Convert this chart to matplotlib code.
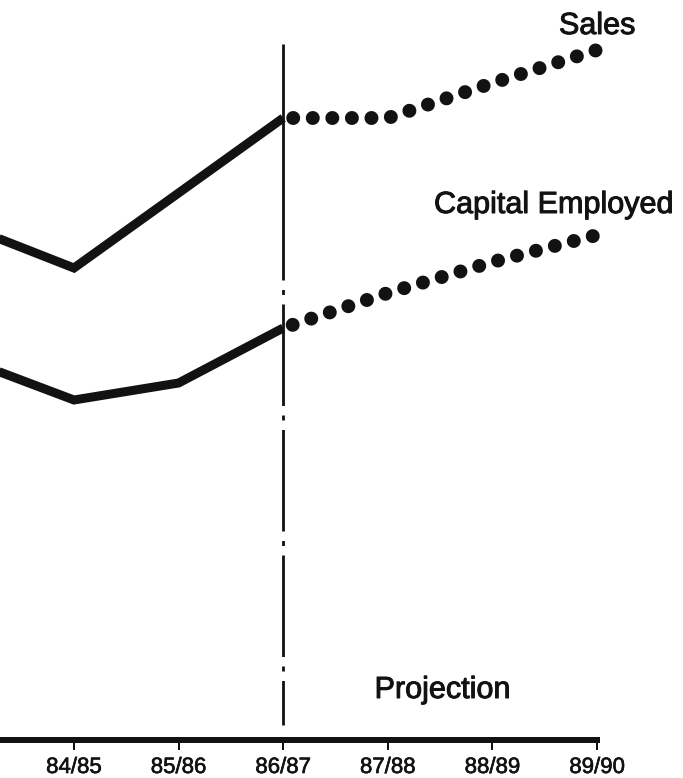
import numpy as np
import matplotlib
matplotlib.use("Agg")
import matplotlib.pyplot as plt
import matplotlib.patheffects as pe

# dash lengths below are given in points, not multiples of linewidth
plt.rcParams['lines.scale_dashes'] = False
plt.rcParams['font.family'] = ['Liberation Sans', 'DejaVu Sans']

# years on the x axis (index 0 = 84/85)
years = ['83/84', '84/85', '85/86', '86/87', '87/88', '88/89', '89/90']
year_idx = np.arange(-1, 6)
tick_labels = years[1:]

# actual figures up to 86/87 (arbitrary index units)
actual_years = year_idx[:4]
sales_actual = [102.6, 94.4, 109.4, 124.4]
capital_actual = [75.9, 68.0, 71.4, 82.4]

# projections from 86/87 onwards
proj_years = year_idx[3:]
sales_proj = [124.4, 124.4, 131.4, 138.0]
capital_proj = [82.4, 89.4, 95.6, 101.0]

PX = 72 / 100  # points per pixel at dpi 100
INK = '#121212'
heavy = [pe.withStroke(linewidth=0.7, foreground=INK)]


def px(v):
    return v * PX


def draw_projection(ax, x, y):
    period = px(19.55)
    ax.plot(x, y, color=INK, lw=px(14),
            linestyle=(period - px(10), (0.01, period)),
            dash_capstyle='round', solid_capstyle='round', zorder=4)


fig = plt.figure(figsize=(6.83, 7.78), dpi=100)
ax = fig.add_axes([0, 0, 1, 1])
ax.set_xlim(-0.707, 5.822)
ax.set_ylim(-7.6, 148)

# actual data, heavy solid lines
for vals in (sales_actual, capital_actual):
    ax.plot(actual_years, vals, color=INK, lw=px(9),
            solid_joinstyle='miter', solid_capstyle='butt', zorder=3)

# projections as big dots
draw_projection(ax, proj_years, sales_proj)
draw_projection(ax, proj_years, capital_proj)

# divider between actual and projection
ax.plot([2, 2], [139.2, 92.0], color=INK, lw=px(2.8),
        solid_capstyle='butt', zorder=2)
ax.plot([2, 2], [92.0, 3.0], color=INK, lw=px(2.8),
        linestyle=(px(101.5), (px(101.5), px(9.5), px(5), px(9.5))),
        dash_capstyle='butt', zorder=2)

# labels
for x, y, s in [(5.0, 141.2, 'Sales'), (4.58, 105.4, 'Capital Employed'),
                (3.52, 8.4, 'Projection')]:
    ax.text(x, y, s, fontsize=22, ha='center', va='baseline', color=INK,
            path_effects=heavy)

# axis: thick baseline with short ticks
for side in ('top', 'left', 'right'):
    ax.spines[side].set_visible(False)
ax.spines['bottom'].set_position(('data', 0))
ax.spines['bottom'].set_bounds(-0.707, 5)
ax.spines['bottom'].set_linewidth(px(6))
ax.spines['bottom'].set_color(INK)
ax.set_xticks(year_idx[1:])
ax.set_xticklabels(tick_labels)
ax.tick_params(axis='x', direction='out', length=px(10), width=px(2),
               color=INK, pad=px(7), labelsize=16, labelcolor=INK)
for lab in ax.get_xticklabels():
    lab.set_path_effects([pe.withStroke(linewidth=0.45, foreground=INK)])
ax.set_yticks([])
ax.patch.set_alpha(0)

fig.savefig('out.png', dpi=100, facecolor='white')
